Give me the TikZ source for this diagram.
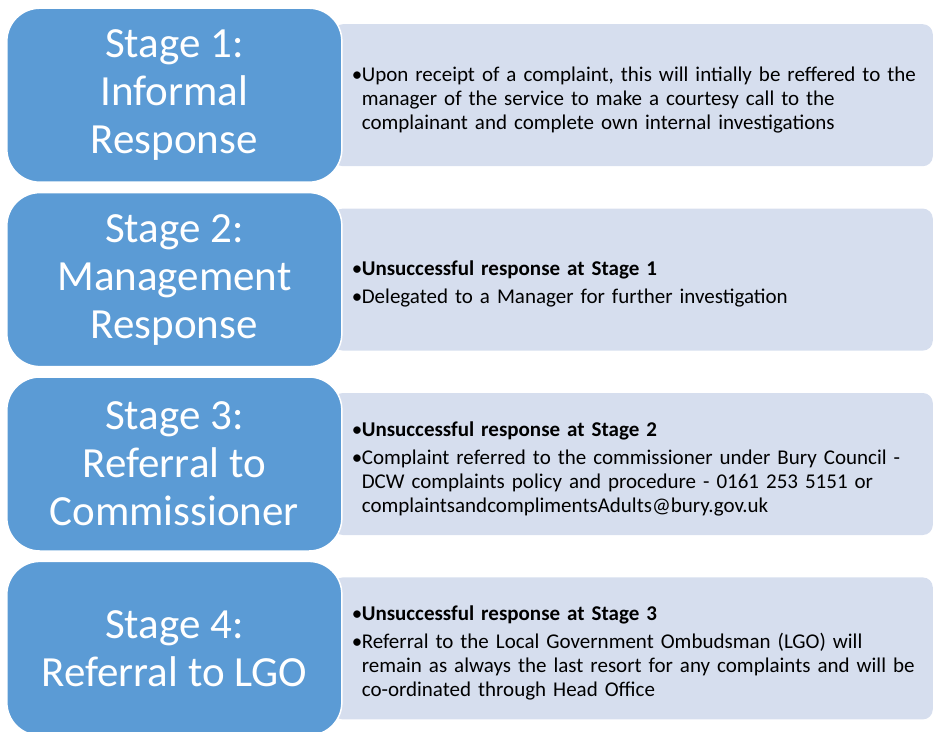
\documentclass[tikz,border=0pt]{standalone}
\usepackage{fontspec}
\setmainfont{Carlito}
\usetikzlibrary{positioning}
\definecolor{stageblue}{RGB}{91,155,213}
\definecolor{detailblue}{RGB}{214,222,238}
\newcommand{\bul}[1]{\par\noindent\makebox[10pt][l]{\textbullet}\parbox[t]{560pt}{\raggedright #1}}
\newcommand{\nextbul}[1]{\par\vspace{4pt}\bul{#1}}
\tikzset{
	stage/.style={rectangle, rounded corners=33pt, fill=stageblue, draw=white, line width=1.5pt, minimum width=335pt, minimum height=174pt, align=center, text=white, font=\fontsize{43}{48}\selectfont},
	detail/.style={rectangle, rounded corners=10pt, fill=detailblue, minimum width=600pt, minimum height=142pt, text width=562pt, inner xsep=19pt, align=left, font=\fontsize{21}{24}\selectfont}
}

\begin{document}
\begin{tikzpicture}
\useasboundingbox (0,0) rectangle (933pt,-731pt);
\clip (0,0) rectangle (933pt,-731pt);
\node[detail, anchor=north east] (D1) at (933pt,-24pt) {\bul{Upon receipt of a complaint, this will intially be reffered to the\\ manager of the service to make a courtesy call to the\\ complainant and complete own internal investigations}};
\node[detail] (D2) [below=42pt of D1] {\bul{\textbf{Unsuccessful response at Stage 1}}\nextbul{Delegated to a Manager for further investigation}};
\node[detail] (D3) [below=42pt of D2] {\bul{\textbf{Unsuccessful response at Stage 2}}\nextbul{Complaint referred to the commissioner under Bury Council -\\ DCW complaints policy and procedure - 0161 253 5151 or\\ complaintsandcomplimentsAdults@bury.gov.uk}};
\node[detail] (D4) [below=42pt of D3] {\bul{\textbf{Unsuccessful response at Stage 3}}\nextbul{Referral to the Local Government Ombudsman (LGO) will\\ remain as always the last resort for any complaints and will be\\ co-ordinated through Head Office}};
\node[stage] (S1) [left=-10pt of D1] {Stage 1:\\ Informal\\ Response};
\node[stage] (S2) [left=-10pt of D2] {Stage 2:\\ Management\\ Response};
\node[stage] (S3) [left=-10pt of D3] {Stage 3:\\ Referral to\\ Commissioner};
\node[stage] (S4) [left=-10pt of D4] {Stage 4:\\ Referral to LGO};
\end{tikzpicture}
\end{document}
